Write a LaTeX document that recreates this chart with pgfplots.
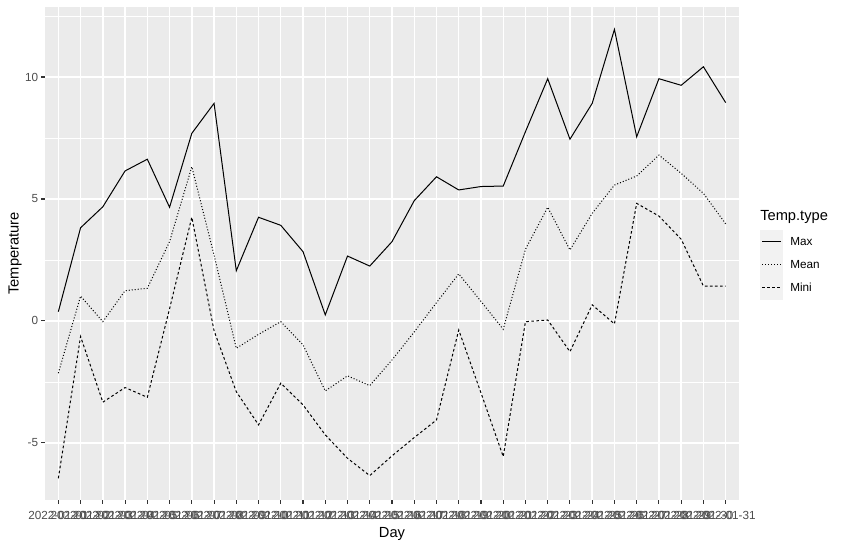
\documentclass[border=0pt]{standalone}
\usepackage{fontspec}
\setmainfont{Liberation Sans}
\usepackage{pgfplots}
\pgfplotsset{compat=1.18}
\definecolor{panelbg}{HTML}{EBEBEB}
\definecolor{tickc}{HTML}{333333}
\definecolor{labc}{HTML}{4D4D4D}
\definecolor{keybg}{HTML}{F2F2F2}
\pgfplotstableread{
d Max Mean Mini
1 0.38 -2.14 -6.45
2 3.82 1.02 -0.64
3 4.68 -0.03 -3.33
4 6.15 1.24 -2.73
5 6.63 1.34 -3.13
6 4.66 3.25 0.50
7 7.69 6.32 4.25
8 8.92 2.70 -0.40
9 2.06 -1.12 -2.90
10 4.25 -0.55 -4.26
11 3.92 -0.03 -2.55
12 2.84 -0.98 -3.44
13 0.25 -2.87 -4.67
14 2.66 -2.25 -5.63
15 2.25 -2.65 -6.34
16 3.25 -1.60 -5.53
17 4.93 -0.45 -4.78
18 5.91 0.75 -4.06
19 5.37 1.93 -0.37
20 5.51 0.80 -2.95
21 5.53 -0.34 -5.56
22 7.76 2.94 -0.03
23 9.93 4.66 0.04
24 7.45 2.91 -1.26
25 8.92 4.41 0.66
26 11.95 5.57 -0.12
27 7.55 5.94 4.82
28 9.93 6.80 4.30
29 9.66 6.05 3.35
30 10.42 5.23 1.43
31 8.95 3.98 1.43
}\datatable
\begin{document}
\begin{tikzpicture}
\useasboundingbox (0,0) rectangle (631.5pt,406.5pt);
\begin{axis}[
  at={(33.75pt,31.5pt)}, anchor=south west,
  scale only axis, width=520.5pt, height=369.75pt,
  xmin=0.4, xmax=31.6, ymin=-7.34, ymax=12.87,
  axis background/.style={fill=panelbg},
  axis line style={draw=none},
  xtick={1,...,31},
  xticklabels={2022-01-01,2022-01-02,2022-01-03,2022-01-04,2022-01-05,2022-01-06,2022-01-07,2022-01-08,2022-01-09,2022-01-10,2022-01-11,2022-01-12,2022-01-13,2022-01-14,2022-01-15,2022-01-16,2022-01-17,2022-01-18,2022-01-19,2022-01-20,2022-01-21,2022-01-22,2022-01-23,2022-01-24,2022-01-25,2022-01-26,2022-01-27,2022-01-28,2022-01-29,2022-01-30,2022-01-31},
  ytick={-5,0,5,10}, yticklabels={-5,0,5,10},
  minor ytick={-2.5,2.5,7.5,12.5},
  grid=both,
  major grid style={white, line width=1.07pt},
  minor grid style={white, line width=0.53pt},
  tick align=outside, major tick length=2.75pt, minor tick length=0pt,
  xtick pos=left, ytick pos=left,
  tick style={color=tickc, line width=0.8pt},
  every tick label/.append style={font=\fontsize{8.8}{10}\selectfont, text=labc},
  xticklabel style={inner sep=0pt, anchor=north, yshift=-5.2pt},
  yticklabel style={inner sep=0pt, anchor=east, xshift=-2.2pt},
  xlabel={Day},
  label style={font=\fontsize{11}{13}\selectfont},
  x label style={at={(axis description cs:0.5,0)}, anchor=center, yshift=-25.5pt},
]
\addplot[black, line width=0.75pt] table[x=d, y=Max] {\datatable};
\addplot[black, line width=0.75pt, dash pattern=on 0.75pt off 1.5pt] table[x=d, y=Mean] {\datatable};
\addplot[black, line width=0.75pt, dash pattern=on 2pt off 1.8pt] table[x=d, y=Mini] {\datatable};
\end{axis}
\node[rotate=90, anchor=center, inner sep=0pt, font=\fontsize{11}{13}\selectfont] at (11.25pt,216.4pt) {Temperature};
% legend
\node[anchor=west, inner sep=0pt, font=\fontsize{11}{13}\selectfont] at (570pt,243.75pt) {Temp.type};
\fill[keybg] (570pt,181.5pt) rectangle (587.25pt,234pt);
\draw[black, line width=0.75pt] (571.5pt,225.4pt) -- (585.75pt,225.4pt);
\draw[black, line width=0.75pt, dash pattern=on 0.75pt off 1.5pt] (571.5pt,208.1pt) -- (585.75pt,208.1pt);
\draw[black, line width=0.75pt, dash pattern=on 2pt off 1.8pt] (571.5pt,190.9pt) -- (585.75pt,190.9pt);
\node[anchor=west, inner sep=0pt, font=\fontsize{8.8}{10}\selectfont] at (592.5pt,225.4pt) {Max};
\node[anchor=west, inner sep=0pt, font=\fontsize{8.8}{10}\selectfont] at (592.5pt,208.1pt) {Mean};
\node[anchor=west, inner sep=0pt, font=\fontsize{8.8}{10}\selectfont] at (592.5pt,190.9pt) {Mini};
\end{tikzpicture}
\end{document}
